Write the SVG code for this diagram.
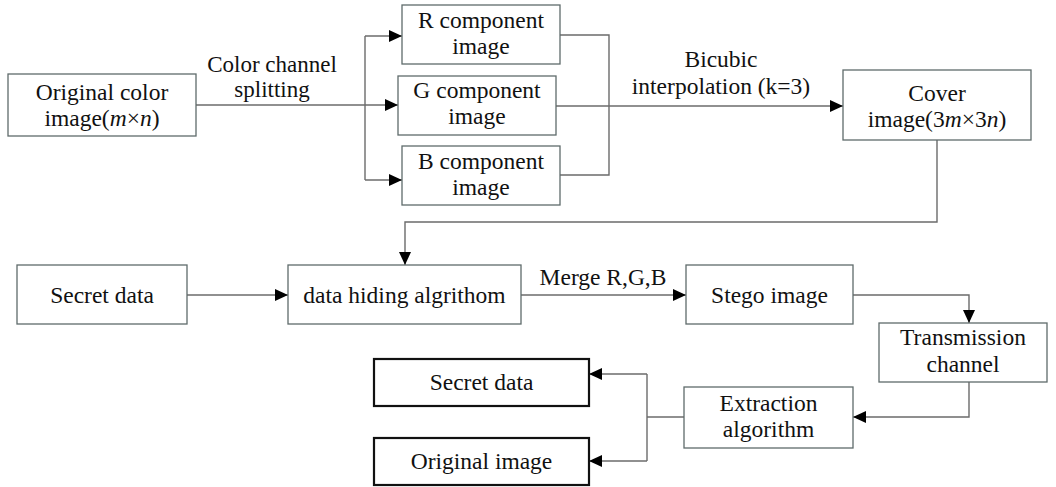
<svg xmlns="http://www.w3.org/2000/svg" width="1056" height="487" viewBox="0 0 1056 487">
  <defs>
    <marker id="arrow" markerUnits="userSpaceOnUse" markerWidth="14" markerHeight="12" refX="13" refY="6" orient="auto">
      <path d="M0,0 L13,6 L0,12 Z" fill="#000"/>
    </marker>
    <style>
      .box { fill: #fff; stroke: #5f6b6b; stroke-width: 1.3; }
      .box-out { fill: #fff; stroke: #111; stroke-width: 2.2; }
      .t { font-family: "Liberation Serif", "Times New Roman", serif; font-size: 23.5px; fill: #111; text-anchor: middle; }
      .lbl { font-size: 23px; }
      .link { fill: none; stroke: #6b6b6b; stroke-width: 1.4; }
      .arr { marker-end: url(#arrow); }
    </style>
  </defs>
  <rect width="1056" height="487" fill="#fff"/>

  <!-- connectors -->
  <g id="connectors">
    <!-- colour channel split -->
    <path class="link arr" d="M196,105 H398"/>
    <path class="link" d="M365,36 V180"/>
    <path class="link arr" d="M365,36 H402"/>
    <path class="link arr" d="M365,180 H402"/>
    <!-- components merged into the cover image -->
    <path class="link" d="M560,35 H609 V175 H560"/>
    <path class="link arr" d="M556,106 H843"/>
    <!-- cover image to hiding step -->
    <path class="link arr" d="M937,140 V222 H405 V265"/>
    <path class="link arr" d="M187,295 H288"/>
    <path class="link arr" d="M521,295 H686"/>
    <!-- transmission and extraction -->
    <path class="link arr" d="M853,295 H969 V323"/>
    <path class="link arr" d="M969,382 V417 H853"/>
    <path class="link" d="M684,417 H647"/>
    <path class="link" d="M647,374 V461"/>
    <path class="link arr" d="M647,374 H589"/>
    <path class="link arr" d="M647,461 H589"/>
    <!-- connector labels -->
    <text class="t lbl" x="272" y="72">Color channel</text>
    <text class="t lbl" x="272" y="97">splitting</text>
    <text class="t" x="721" y="67">Bicubic</text>
    <text class="t" x="721" y="94">interpolation (k=3)</text>
    <text class="t" x="603" y="285">Merge R,G,B</text>
  </g>

  <g id="original-color">
    <rect class="box" x="8" y="74" width="188" height="62"/>
    <text class="t" x="102" y="100">Original color</text>
    <text class="t" x="102" y="126">image(<tspan font-style="italic">m</tspan>×<tspan font-style="italic">n</tspan>)</text>
  </g>

  <g id="r-component">
    <rect class="box" x="402" y="5" width="158" height="59"/>
    <text class="t" x="481" y="28">R component</text>
    <text class="t" x="481" y="54">image</text>
  </g>

  <g id="g-component">
    <rect class="box" x="398" y="76" width="158" height="59"/>
    <text class="t" x="477" y="98">G component</text>
    <text class="t" x="477" y="124">image</text>
  </g>

  <g id="b-component">
    <rect class="box" x="402" y="146" width="158" height="59"/>
    <text class="t" x="481" y="169">B component</text>
    <text class="t" x="481" y="195">image</text>
  </g>

  <g id="cover-image">
    <rect class="box" x="843" y="70" width="188" height="70"/>
    <text class="t" x="937" y="101">Cover</text>
    <text class="t" x="937" y="127">image(3<tspan font-style="italic">m</tspan>×3<tspan font-style="italic">n</tspan>)</text>
  </g>

  <g id="secret-data">
    <rect class="box" x="17" y="265" width="170" height="59"/>
    <text class="t" x="102" y="303">Secret data</text>
  </g>

  <g id="data-hiding">
    <rect class="box" x="288" y="265" width="233" height="59"/>
    <text class="t" x="404.5" y="303">data hiding algrithom</text>
  </g>

  <g id="stego-image">
    <rect class="box" x="686" y="265" width="167" height="59"/>
    <text class="t" x="769.5" y="303">Stego image</text>
  </g>

  <g id="transmission">
    <rect class="box" x="879" y="323" width="168" height="59"/>
    <text class="t" x="963" y="345">Transmission</text>
    <text class="t" x="963" y="372">channel</text>
  </g>

  <g id="extraction">
    <rect class="box" x="684" y="387" width="169" height="61"/>
    <text class="t" x="768.5" y="411">Extraction</text>
    <text class="t" x="768.5" y="437">algorithm</text>
  </g>

  <g id="secret-data-out">
    <rect class="box-out" x="374" y="359" width="215" height="47"/>
    <text class="t" x="481.5" y="390">Secret data</text>
  </g>

  <g id="original-image-out">
    <rect class="box-out" x="374" y="438" width="215" height="47"/>
    <text class="t" x="481.5" y="469">Original image</text>
  </g>
</svg>
